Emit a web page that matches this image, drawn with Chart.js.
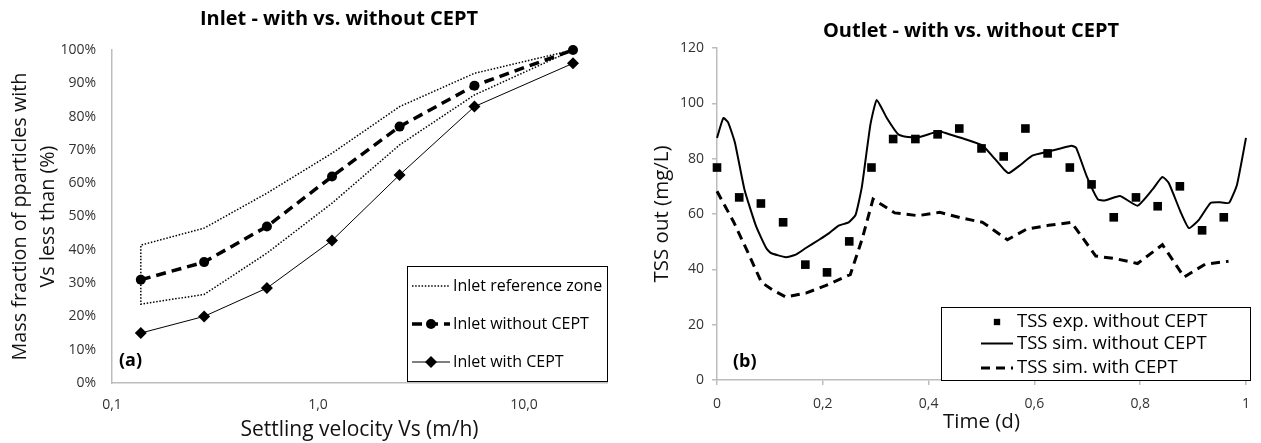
<!DOCTYPE html>
<html>
<head>
<meta charset="utf-8">
<script src="https://cdn.jsdelivr.net/npm/chart.js@4.4.1/dist/chart.umd.min.js"></script>
<style>
  html, body { margin: 0; padding: 0; background: #fff; }
  body { width: 1261px; height: 443px; position: relative; overflow: hidden; }
  canvas { position: absolute; top: 0; }
  #inletChart { left: 0; }
  #outletChart { left: 620px; }
</style>
</head>
<body>
<canvas id="inletChart" width="620" height="443"></canvas>
<canvas id="outletChart" width="641" height="443"></canvas>
<script>
// Panel (a): inlet settling velocity distribution
const velocity = [0.138, 0.28, 0.565, 1.17, 2.49, 5.75, 17.3];
const inletWithout = [31, 36.3, 47, 62, 77, 89.3, 100];
const inletWith = [15, 20, 28.5, 42.8, 62.5, 83, 96];
const zoneUpper = [41.4, 46.5, 57, 69, 83, 93, 100];
const zoneLower = [23.7, 26.6, 39, 54, 71.5, 86.5, 100];
const velocityTicks = [0.1, 1, 10];

// Panel (b): outlet TSS over one day
const expTime = [0, 0.042, 0.083, 0.125, 0.167, 0.208, 0.25, 0.292, 0.333, 0.375, 0.417, 0.458,
                 0.5, 0.542, 0.583, 0.625, 0.667, 0.708, 0.75, 0.792, 0.833, 0.875, 0.917, 0.958];
const expTSS = [76.8, 66, 63.8, 57, 41.7, 38.9, 50.1, 76.8, 87.1, 87.1, 88.8, 90.9,
                83.7, 80.8, 90.9, 81.9, 76.8, 70.7, 58.8, 66, 62.8, 70, 54.1, 58.8];

const simTime = [0, 0.012, 0.021, 0.034, 0.052, 0.074, 0.093, 0.102, 0.13, 0.149, 0.168, 0.193,
                 0.212, 0.23, 0.249, 0.262, 0.274, 0.29, 0.302, 0.321, 0.343, 0.361, 0.383, 0.419,
                 0.436, 0.468, 0.502, 0.524, 0.543, 0.552, 0.574, 0.596, 0.627, 0.67, 0.679, 0.699,
                 0.72, 0.733, 0.762, 0.795, 0.823, 0.842, 0.854, 0.876, 0.892, 0.911, 0.933, 0.954,
                 0.968, 0.983, 1.0];
const simWithout = [87.5, 94.7, 93.1, 85.7, 68.8, 55.5, 47.7, 45.9, 44.4, 45.3, 47.7, 50.7,
                    53.1, 55.8, 57, 59.7, 70, 92.3, 101.2, 94.7, 88.7, 87.8, 87.8, 89.9,
                    89, 87.1, 84.7, 80.2, 76, 74.8, 77.8, 81.1, 82.6, 84.7, 83.9, 73.6,
                    65.3, 64.9, 66.5, 63, 68.8, 73.4, 71.2, 60.9, 54.9, 57.9, 64, 64.2,
                    64, 70.6, 87.5];

const simCeptTime = [0, 0.031, 0.059, 0.084, 0.105, 0.13, 0.168, 0.205, 0.252, 0.274, 0.295, 0.336,
                     0.38, 0.421, 0.461, 0.502, 0.549, 0.586, 0.627, 0.67, 0.716, 0.755, 0.795, 0.842,
                     0.883, 0.923, 0.967];
const simWith = [68.2, 57.3, 45.9, 35.3, 32.6, 30, 31.4, 34.1, 38.1, 50.7, 65.4, 60.4,
                 59.4, 60.6, 58.6, 57, 50.7, 54.6, 55.9, 57, 44.8, 43.8, 42.1, 48.9,
                 37.2, 41.9, 42.9];

Chart.defaults.font.family = "'Open Sans', sans-serif";
Chart.defaults.color = '#333';

const axisGray = '#bdbdbd';

function toPoints(xs, ys) {
    return xs.map((x, i) => ({ x: x, y: ys[i] }));
}

function decimalComma(v, digits) {
    return v.toFixed(digits).replace('.', ',');
}

function drawMarker(ctx, style, r, x, y) {
    ctx.beginPath();
    if (style === 'circle') {
        ctx.arc(x, y, r, 0, Math.PI * 2);
    } else if (style === 'rectRot') {
        ctx.moveTo(x, y - r);
        ctx.lineTo(x + r, y);
        ctx.lineTo(x, y + r);
        ctx.lineTo(x - r, y);
        ctx.closePath();
    } else {
        const s = r * Math.SQRT1_2;
        ctx.rect(x - s, y - s, 2 * s, 2 * s);
    }
    ctx.fill();
}

// Title, panel tag and boxed legend, placed like the original figure
const panelDecor = {
    id: 'panelDecor',
    afterDraw(chart, args, opts) {
        const ctx = chart.ctx;
        ctx.save();
        ctx.fillStyle = '#000';
        ctx.textBaseline = 'middle';

        ctx.font = "bold 20px 'Open Sans', sans-serif";
        ctx.textAlign = 'center';
        ctx.fillText(opts.title.text, opts.title.x, opts.title.y);

        ctx.font = "bold 18px 'Open Sans', sans-serif";
        ctx.textAlign = 'left';
        ctx.fillText(opts.tag.text, opts.tag.x, opts.tag.y);

        const lg = opts.legend;
        ctx.fillStyle = '#fff';
        ctx.fillRect(lg.x, lg.y, lg.w, lg.h);
        ctx.strokeStyle = '#000';
        ctx.lineWidth = 1;
        ctx.setLineDash([]);
        ctx.strokeRect(lg.x + 0.5, lg.y + 0.5, lg.w, lg.h);

        ctx.font = lg.fontSize + "px 'Open Sans', sans-serif";
        chart.data.datasets.forEach((ds, i) => {
            const y = lg.rows[i];
            if (ds.showLine) {
                ctx.strokeStyle = ds.borderColor;
                ctx.lineWidth = ds.borderWidth;
                ctx.setLineDash(ds.borderDash || []);
                ctx.beginPath();
                ctx.moveTo(lg.x0, y);
                ctx.lineTo(lg.x1, y);
                ctx.stroke();
                ctx.setLineDash([]);
            }
            if (ds.pointRadius > 0) {
                ctx.fillStyle = ds.pointBackgroundColor;
                drawMarker(ctx, ds.pointStyle, lg.markerRadius || ds.pointRadius, (lg.x0 + lg.x1) / 2, y);
            }
            ctx.fillStyle = '#000';
            ctx.fillText(ds.label, lg.textX, y);
        });
        ctx.restore();
    }
};

new Chart(document.getElementById('inletChart'), {
    type: 'scatter',
    data: {
        datasets: [
            {
                label: 'Inlet reference zone',
                data: toPoints(velocity, zoneUpper).reverse().concat(toPoints(velocity, zoneLower)),
                showLine: true,
                borderColor: '#000',
                borderWidth: 1.5,
                borderDash: [1.5, 1.7],
                pointRadius: 0,
                tension: 0,
                clip: false
            },
            {
                label: 'Inlet without CEPT',
                data: toPoints(velocity, inletWithout),
                showLine: true,
                borderColor: '#000',
                borderWidth: 3.5,
                borderDash: [10, 6],
                pointStyle: 'circle',
                pointRadius: 5,
                pointBackgroundColor: '#000',
                pointBorderWidth: 0,
                clip: false
            },
            {
                label: 'Inlet with CEPT',
                data: toPoints(velocity, inletWith),
                showLine: true,
                borderColor: '#000',
                borderWidth: 1,
                pointStyle: 'rectRot',
                pointRadius: 6,
                pointBackgroundColor: '#000',
                pointBorderWidth: 0,
                clip: false
            }
        ]
    },
    options: {
        responsive: false,
        animation: false,
        layout: { padding: { top: 50, right: 13, left: 0, bottom: 0 } },
        plugins: {
            legend: { display: false },
            tooltip: { enabled: false },
            panelDecor: {
                title: { text: 'Inlet - with vs. without CEPT', x: 339, y: 19 },
                tag: { text: '(a)', x: 119, y: 361 },
                legend: { x: 407, y: 266, w: 200, h: 115, rows: [286, 324, 362],
                          x0: 412, x1: 450, textX: 453, fontSize: 16 }
            }
        },
        scales: {
            x: {
                type: 'logarithmic',
                min: 0.1,
                max: 25.3,
                afterBuildTicks: (scale) => { scale.ticks = velocityTicks.map(v => ({ value: v })); },
                afterFit: (scale) => { scale.height = 60; },
                grid: { drawOnChartArea: false, drawTicks: false },
                border: { color: axisGray, width: 1.5 },
                ticks: {
                    font: { size: 14 },
                    padding: 14,
                    callback: (v) => decimalComma(v, 1)
                },
                title: {
                    display: true,
                    text: 'Settling velocity Vs (m/h)',
                    color: '#111',
                    font: { size: 21 },
                    padding: { top: 0, bottom: 0 }
                }
            },
            y: {
                min: 0,
                max: 100,
                afterFit: (scale) => { scale.width = 112; },
                grid: { drawOnChartArea: false, drawTicks: false },
                border: { color: axisGray, width: 1.5 },
                ticks: {
                    stepSize: 10,
                    font: { size: 14 },
                    padding: 16,
                    callback: (v) => v + '%'
                },
                title: {
                    display: true,
                    text: ['Mass fraction of pparticles with', 'Vs less than (%)'],
                    color: '#111',
                    font: { size: 19.8, lineHeight: 1.414 },
                    padding: { top: 6, bottom: 0 }
                }
            }
        }
    },
    plugins: [panelDecor]
});

new Chart(document.getElementById('outletChart'), {
    type: 'scatter',
    data: {
        datasets: [
            {
                label: 'TSS exp. without CEPT',
                data: toPoints(expTime, expTSS),
                showLine: false,
                pointStyle: 'rect',
                pointRadius: 6.1,
                pointBackgroundColor: '#000',
                pointBorderWidth: 0,
                clip: false
            },
            {
                label: 'TSS sim. without CEPT',
                data: toPoints(simTime, simWithout),
                showLine: true,
                borderColor: '#000',
                borderWidth: 2,
                pointRadius: 0,
                tension: 0.15,
                clip: false
            },
            {
                label: 'TSS sim. with CEPT',
                data: toPoints(simCeptTime, simWith),
                showLine: true,
                borderColor: '#000',
                borderWidth: 3,
                borderDash: [9, 6],
                pointRadius: 0,
                tension: 0,
                clip: false
            }
        ]
    },
    options: {
        responsive: false,
        animation: false,
        layout: { padding: { top: 48, right: 10, left: 0, bottom: 0 } },
        plugins: {
            legend: { display: false },
            tooltip: { enabled: false },
            panelDecor: {
                title: { text: 'Outlet - with vs. without CEPT', x: 351, y: 31 },
                tag: { text: '(b)', x: 113, y: 362 },
                legend: { x: 321, y: 307, w: 309, h: 73, rows: [322, 343.5, 368],
                          x0: 361, x1: 393, textX: 397, fontSize: 18.5, markerRadius: 4.5 }
            }
        },
        scales: {
            x: {
                type: 'linear',
                min: 0,
                max: 1,
                afterFit: (scale) => { scale.height = 63; },
                grid: { drawOnChartArea: false, drawTicks: true, tickLength: 5, color: axisGray, lineWidth: 1.5 },
                border: { color: axisGray, width: 1.5 },
                ticks: {
                    stepSize: 0.2,
                    font: { size: 14 },
                    padding: 11,
                    callback: (v) => (v === 0 || v === 1) ? String(v) : decimalComma(v, 1)
                },
                title: {
                    display: true,
                    text: 'Time (d)',
                    color: '#111',
                    font: { size: 20.5 },
                    padding: { top: 0, bottom: 9 }
                }
            },
            y: {
                min: 0,
                max: 120,
                afterFit: (scale) => { scale.width = 97; },
                grid: { drawOnChartArea: false, drawTicks: true, tickLength: 5, color: axisGray, lineWidth: 1.5 },
                border: { color: axisGray, width: 1.5 },
                ticks: {
                    stepSize: 20,
                    font: { size: 14 },
                    padding: 8
                },
                title: {
                    display: true,
                    text: 'TSS out (mg/L)',
                    color: '#111',
                    font: { size: 20.5 },
                    padding: { top: 30, bottom: 0 }
                }
            }
        }
    },
    plugins: [panelDecor]
});
</script>
</body>
</html>
